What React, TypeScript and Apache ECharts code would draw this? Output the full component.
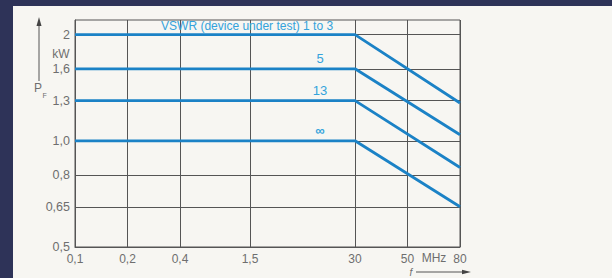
import React, { useEffect, useRef } from "react";
import * as echarts from "echarts";

// Frequency axis (MHz): tick labels and their slots on the original, non-uniform scale
const freqLabels = ["0,1", "0,2", "0,4", "1,5", "30", "50", "80"];
const freqSlots = [0, 3, 6, 10, 16, 19, 22];

// Power axis (kW), logarithmic
const powerTicks = [0.5, 0.65, 0.8, 1.0, 1.3, 1.6, 2];
const powerTickLabels = ["0,5", "0,65", "0,8", "1,0", "1,3", "1,6", "2"];

// Curves per VSWR of the device under test
const curveNames = ["VSWR (device under test) 1 to 3", "5", "13", "∞"];
const flatPower = [2, 1.6, 1.3, 1.0]; // kW, 0.1 … 30 MHz
const powerAt80 = [1.28, 1.04, 0.84, 0.65]; // kW at 80 MHz

const slotOf = (label: string) => freqSlots[freqLabels.indexOf(label)];

export default function App() {
  const ref = useRef<HTMLDivElement>(null);
  useEffect(() => {
    if (!ref.current) return;
    const chart = echarts.init(ref.current, undefined, { renderer: "svg" });
    const font = "'Liberation Sans', Arial, sans-serif";
    const lineColor = "#1b82c6";
    const textBlue = "#34a3dc";
    const gridColor = "#555555";
    const labelColor = "#6e6e6e";

    const series = curveNames.map((name, i) => ({
      type: "line",
      name,
      symbol: "none",
      lineStyle: { color: lineColor, width: 2.8 },
      data: [
        [slotOf("0,1"), flatPower[i]],
        [slotOf("30"), flatPower[i]],
        [slotOf("80"), powerAt80[i]],
      ],
      markPoint: {
        symbol: "circle",
        symbolSize: 0,
        silent: true,
        data: [
          i === 0
            ? {
                coord: [14.75, flatPower[i]],
                label: {
                  show: true,
                  formatter: name,
                  position: "top",
                  align: "right",
                  distance: 3,
                  color: textBlue,
                  fontFamily: font,
                  fontSize: 12,
                },
              }
            : {
                coord: [14, flatPower[i]],
                label: {
                  show: true,
                  formatter: name,
                  position: "top",
                  distance: 4,
                  color: textBlue,
                  fontFamily: font,
                  fontSize: name === "∞" ? 13 : 13,
                  fontWeight: name === "∞" ? "bold" : "normal",
                },
              },
        ],
      },
    }));

    chart.setOption({
      animation: false,
      backgroundColor: "#2e3358",
      graphic: [
        {
          type: "rect",
          z: -10,
          shape: { x: 13, y: 6, width: 600, height: 272 },
          style: { fill: "#f7f6f2" },
        },
        {
          type: "line",
          shape: { x1: 39, y1: 24, x2: 39, y2: 81 },
          style: { stroke: "#555", lineWidth: 1 },
        },
        {
          type: "polygon",
          shape: { points: [[39, 17], [36.5, 26], [41.5, 26]] },
          style: { fill: "#444" },
        },
        {
          type: "text",
          x: 61,
          y: 54,
          style: { text: "kW", fill: labelColor, font: `12px ${font}`, align: "center", verticalAlign: "middle" },
        },
        {
          type: "text",
          x: 38,
          y: 88,
          style: { text: "P", fill: labelColor, font: `12px ${font}`, align: "center", verticalAlign: "middle" },
        },
        {
          type: "text",
          x: 42.5,
          y: 95,
          style: { text: "F", fill: labelColor, font: `7px ${font}`, align: "left", verticalAlign: "middle" },
        },
        {
          type: "text",
          x: 434,
          y: 258,
          style: { text: "MHz", fill: labelColor, font: `12px ${font}`, align: "center", verticalAlign: "middle" },
        },
        {
          type: "text",
          x: 411,
          y: 272,
          style: { text: "f", fill: labelColor, font: `italic 10px ${font}`, align: "center", verticalAlign: "middle" },
        },
        {
          type: "line",
          shape: { x1: 416, y1: 272, x2: 464, y2: 272 },
          style: { stroke: "#555", lineWidth: 1 },
        },
        {
          type: "polygon",
          shape: { points: [[471, 272], [462, 269.8], [462, 274.2]] },
          style: { fill: "#444" },
        },
      ],
      grid: {
        left: 75,
        right: 152,
        top: 20,
        bottom: 31,
        show: true,
        borderColor: gridColor,
        borderWidth: 1,
        backgroundColor: "transparent",
      },
      xAxis: {
        type: "value",
        min: 0,
        max: 22,
        axisLine: { show: true, lineStyle: { color: gridColor } },
        axisTick: { show: false, customValues: freqSlots },
        axisLabel: {
          customValues: freqSlots,
          formatter: (v: number) => freqLabels[freqSlots.indexOf(v)] ?? "",
          color: labelColor,
          fontFamily: font,
          fontSize: 12,
          margin: 6,
        },
        splitLine: { show: true, lineStyle: { color: gridColor, width: 1 } },
      },
      yAxis: {
        type: "log",
        logBase: 10,
        min: 0.5,
        max: 2.2,
        axisLine: { show: true, lineStyle: { color: gridColor } },
        axisTick: { show: false, customValues: powerTicks },
        axisLabel: {
          customValues: powerTicks,
          formatter: (v: number) => {
            const k = powerTicks.findIndex((t) => Math.abs(t - v) < 1e-6);
            return k >= 0 ? powerTickLabels[k] : "";
          },
          color: labelColor,
          fontFamily: font,
          fontSize: 12.5,
          margin: 5,
        },
        splitLine: { show: true, lineStyle: { color: gridColor, width: 1 } },
      },
      series,
    });
    return () => chart.dispose();
  }, []);
  return (
    <div
      ref={ref}
      style={{ position: "fixed", left: 0, top: 0, width: 612, height: 278 }}
    />
  );
}
